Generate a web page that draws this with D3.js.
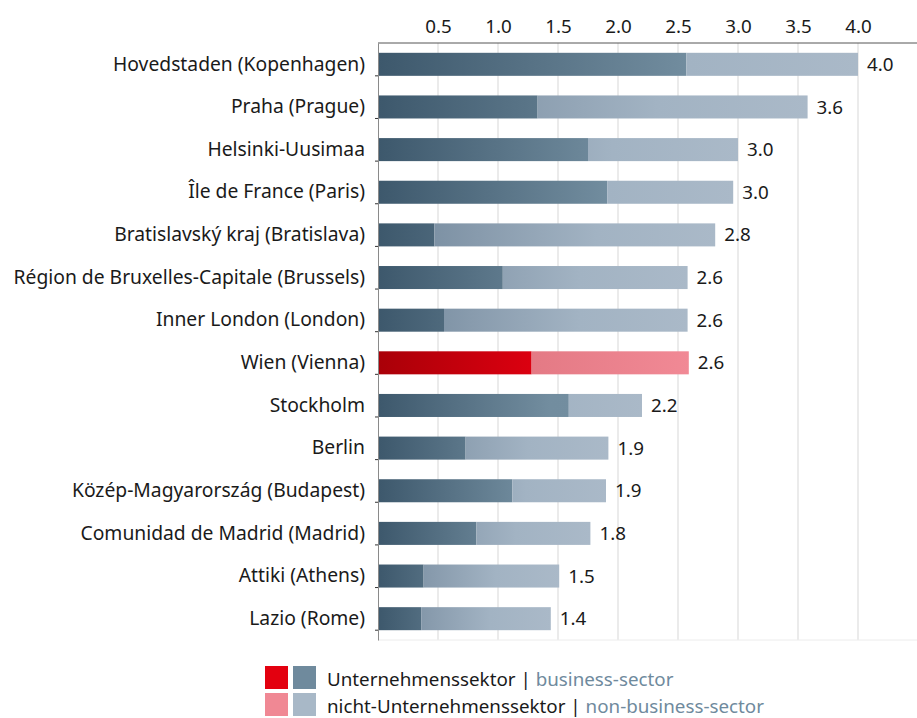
<!DOCTYPE html>
<html>
<head>
<meta charset="utf-8">
<script src="https://cdn.jsdelivr.net/npm/d3@7"></script>
<style>
  body { margin: 0; background: #fff; }
  text { font-family: "Noto Sans", sans-serif; }
</style>
</head>
<body>
<svg id="chart" width="917" height="718"></svg>
<script>
var regions = [
    "Hovedstaden (Kopenhagen)", "Praha (Prague)", "Helsinki-Uusimaa", "Île de France (Paris)",
    "Bratislavský kraj (Bratislava)", "Région de Bruxelles-Capitale (Brussels)", "Inner London (London)",
    "Wien (Vienna)", "Stockholm", "Berlin", "Közép-Magyarország (Budapest)",
    "Comunidad de Madrid (Madrid)", "Attiki (Athens)", "Lazio (Rome)"
];
var business =    [2.57, 1.33, 1.75, 1.91, 0.47, 1.04, 0.55, 1.28, 1.59, 0.73, 1.12, 0.82, 0.38, 0.36];
var nonBusiness = [1.43, 2.25, 1.25, 1.05, 2.34, 1.54, 2.03, 1.31, 0.61, 1.19, 0.78, 0.95, 1.13, 1.08];
var highlight = "Wien (Vienna)";
var ticks = [0.5, 1.0, 1.5, 2.0, 2.5, 3.0, 3.5, 4.0];

var data = regions.map((r, i) => {
    return { region: r, business: business[i], nonBusiness: nonBusiness[i], total: business[i] + nonBusiness[i] };
});

var margin = { top: 43, left: 378 };
var width = 540, height = 597;
var fs = 18.8;

var svg = d3.select('#chart');
var defs = svg.append('defs');
var g = svg.append('g').attr('transform', 'translate(' + margin.left + ',' + margin.top + ')');

var x = d3.scaleLinear().domain([0, 4.5]).range([0, width]);
var y = d3.scaleBand().domain(regions).range([0, height]).paddingInner(0.46).paddingOuter(0.23);

// colour ramps along each whole bar
var slate = {
    b: [[0, '#3d586c'], [0.65, '#728d9f'], [1, '#748fa1']],
    n: [[0, '#70869a'], [0.3, '#889bad'], [0.65, '#a2b3c3'], [1, '#aab9c8']]
};
var red = {
    b: [[0, '#a90008'], [0.5, '#dc0010'], [1, '#e6000f']],
    n: [[0, '#d45f6b'], [0.5, '#e47a85'], [1, '#f18995']]
};

data.forEach((d, i) => {
    var pal = d.region === highlight ? red : slate;
    ['b', 'n'].forEach(k => {
        var grad = defs.append('linearGradient')
            .attr('id', 'g' + k + i)
            .attr('gradientUnits', 'userSpaceOnUse')
            .attr('x1', x(0)).attr('x2', x(d.total))
            .attr('y1', 0).attr('y2', 0);
        grad.selectAll('stop').data(pal[k]).enter().append('stop')
            .attr('offset', s => s[0])
            .attr('stop-color', s => s[1]);
    });
});

// gridlines
g.selectAll('.grid')
    .data(ticks)
    .enter()
    .append('line')
    .attr('x1', d => x(d)).attr('x2', d => x(d))
    .attr('y1', 0).attr('y2', height)
    .attr('stroke', '#e4e4e4')
    .attr('stroke-width', 1.5);
g.append('line')
    .attr('x1', 0).attr('x2', width)
    .attr('y1', height).attr('y2', height)
    .attr('stroke', '#ececec');

// top axis
var xAxis = g.append('g')
    .call(d3.axisTop(x).tickValues(ticks).tickFormat(d3.format('.1f')).tickSize(0).tickPadding(10));
xAxis.select('.domain').remove();
xAxis.selectAll('text').attr('font-size', fs).attr('fill', '#1a1a1a');
g.append('line')
    .attr('x1', 0).attr('x2', width)
    .attr('y1', 0).attr('y2', 0)
    .attr('stroke', '#555').attr('stroke-width', 1);

// bars
var row = g.selectAll('.row')
    .data(data)
    .enter()
    .append('g')
    .attr('class', 'row');

row.append('rect')
    .attr('x', x(0))
    .attr('y', d => y(d.region))
    .attr('width', d => x(d.business) - x(0))
    .attr('height', y.bandwidth())
    .attr('fill', (d, i) => 'url(#gb' + i + ')');

row.append('rect')
    .attr('x', d => x(d.business))
    .attr('y', d => y(d.region))
    .attr('width', d => x(d.total) - x(d.business))
    .attr('height', y.bandwidth())
    .attr('fill', (d, i) => 'url(#gn' + i + ')');

row.append('text')  // value labels
    .attr('x', d => x(d.total) + 9)
    .attr('y', d => y(d.region) + y.bandwidth() / 2)
    .attr('dy', '0.35em')
    .attr('font-size', fs)
    .attr('fill', '#1a1a1a')
    .text(d => d3.format('.1f')(d.total));

// category axis
var yAxis = g.append('g')
    .call(d3.axisLeft(y).tickSize(0).tickPadding(13));
yAxis.select('.domain').attr('stroke', '#8a8a8a');
yAxis.selectAll('text').attr('font-size', 19.3).attr('fill', '#1a1a1a');

g.selectAll('.ytick')
    .data(regions)
    .enter()
    .append('line')
    .attr('x1', -3).attr('x2', 0)
    .attr('y1', d => y(d) + y.bandwidth()).attr('y2', d => y(d) + y.bandwidth())
    .attr('stroke', '#333');

// legend
var legend = [
    { c1: '#e3000f', c2: '#6f8a9d', de: 'Unternehmenssektor', en: 'business-sector' },
    { c1: '#f08894', c2: '#a8b8c7', de: 'nicht-Unternehmenssektor', en: 'non-business-sector' }
];
var lg = svg.selectAll('.legend')
    .data(legend)
    .enter()
    .append('g')
    .attr('transform', (d, i) => 'translate(265,' + (666 + i * 27) + ')');

lg.append('rect').attr('width', 23).attr('height', 23).attr('fill', d => d.c1);
lg.append('rect').attr('x', 28).attr('width', 23).attr('height', 23).attr('fill', d => d.c2);

var lt = lg.append('text')
    .attr('x', 62)
    .attr('y', 20)
    .attr('font-size', fs);
lt.append('tspan').attr('fill', '#1a1a1a').text(d => d.de + ' | ');
lt.append('tspan').attr('fill', '#6f8a9d').text(d => d.en);
</script>
</body>
</html>
